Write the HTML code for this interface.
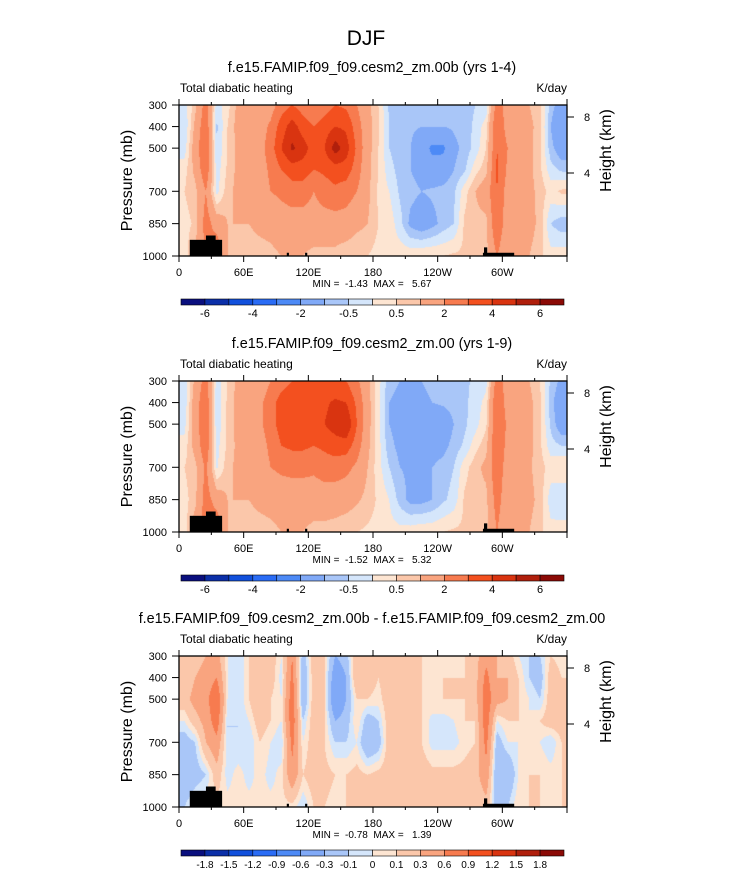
<!DOCTYPE html>
<html><head><meta charset="utf-8"><style>
body{margin:0;background:#fff;width:733px;height:872px;overflow:hidden;position:relative;font-family:"Liberation Sans",Arial,sans-serif}
canvas{position:absolute}
svg{position:absolute;left:0;top:0}
text{white-space:pre}
</style></head><body>
<svg id="ov" width="733" height="872"></svg>
<script>
const lons=[5,15,25,35,45,55,65,75,85,95,105,115,125,135,145,155,165,175,185,195,205,215,225,235,245,255,265,275,285,295,305,315,325,335,345,355];
const pres=[300,400,500,600,700,850,1000];
const levelsA=[-6,-5,-4,-3,-2,-1,-0.5,0,0.5,1,2,3,4,5,6];
const levelsD=[-1.8,-1.5,-1.2,-0.9,-0.6,-0.3,-0.1,0,0.1,0.3,0.6,0.9,1.2,1.5,1.8];
const labelsA=["-6","-4","-2","-0.5","0.5","2","4","6"];
const labelsD=["-1.8","-1.5","-1.2","-0.9","-0.6","-0.3","-0.1","0","0.1","0.3","0.6","0.9","1.2","1.5","1.8"];
const colors=['#0a0f7e','#0b2fa8','#1150dc','#2a6cf5','#4d8af6','#80a9f7','#a9c6f8','#d5e6fb','#fde5d2','#fbc7aa','#f9a47f','#f77b4f','#f3501f','#d93410','#b01f0c','#8b0a06'];
const xTickLabels=["0","60E","120E","180","120W","60W"];
const xTickLons=[0,60,120,180,240,300];
const pTicks=[300,400,500,700,850,1000];
const field1=[
[-0.3,0.8,2.5,-0.3,0.3,1.2,1.2,1.2,1.5,2.5,3,2.5,2,2.5,3,2.8,2,1.2,0.5,-0.6,-0.8,-0.8,-0.8,-0.8,-0.8,-0.8,-0.7,-0.5,-0.4,2.5,1.5,1.2,1.0,0.6,-0.7,-1.5],
[-0.5,1.2,2.8,-0.6,0.5,1.3,1.3,1.5,2.2,3.5,4.5,3.5,3,3.5,4,3.8,2.5,1.3,0.6,-0.5,-0.8,-0.9,-1,-1,-1,-0.9,-0.7,-0.4,0.3,3,1.5,1.5,1.2,0.7,-1,-2],
[-0.3,1.5,3,-0.5,0.5,1.2,1.3,1.6,2.5,4,5.2,4.5,3.5,4,5.5,4.5,2.8,1.3,0.5,-0.5,-0.8,-1,-1.5,-2.2,-2.2,-1.2,-0.8,-0.3,0.5,3,2,1.6,1.2,0.6,-0.8,-1.5],
[0.3,1.2,2.8,-0.3,0.6,1.2,1.2,1.5,2.2,3,3.5,3.5,3,3.2,3.5,3.5,2.5,1.2,0.5,-0.3,-0.7,-1,-1.3,-1.6,-1.5,-1,-0.6,0.3,0.8,3.2,1.8,1.5,1.2,0.6,-0.3,-0.6],
[0.5,0.8,2,-0.2,0.8,1.2,1.2,1.5,2,2.2,2.5,2.5,2,2.5,2.8,2.5,2,1.2,0.4,0,-0.6,-0.8,-1,-0.9,-0.8,-0.6,0.3,1,1.5,3,1.5,1.5,1.2,0.8,0.3,0.6],
[0.3,0.6,2.5,1.5,1,1,1,1.2,1.3,1.5,1.5,1.5,1.5,1.5,1.5,1.5,1.2,1,0.5,0.3,-0.3,-1.2,-1.5,-1.2,-0.8,-0.5,0.6,0.8,0.8,3,1.2,1.5,1.3,0.8,-0.5,-0.8],
[0.2,1.2,2,3,1,0.8,0.7,0.7,0.8,1,1,1,0.8,0.8,0.8,0.6,0.5,0.5,0.3,0.2,0.3,0.4,0.5,0.5,0.5,0.6,0.6,0.8,0.8,2,1,1.2,1,0.6,0.2,0.3]];
const field2=[
[-0.3,1.2,2.5,-0.3,0.5,1.2,1.3,1.4,2,2.5,3,3,3,3,3,3,2.2,1.2,0.2,-0.8,-1,-1,-1,-0.9,-0.8,-0.8,-0.6,-0.4,-0.2,2.5,1.5,1.2,1,0.5,-0.6,-1.2],
[-0.4,1.5,2.8,-0.4,0.6,1.3,1.5,1.8,2.5,3.5,4,3.8,3.5,3.8,4.2,4,2.8,1.3,0.2,-1,-1.2,-1.2,-1.1,-1,-0.9,-0.8,-0.6,-0.3,0.2,3,1.5,1.4,1.2,0.6,-0.8,-1.6],
[-0.2,1.5,3,-0.4,0.6,1.3,1.5,1.8,2.5,3.5,4,3.8,3.5,4,4.5,5,3,1.3,0.2,-1,-1.3,-1.3,-1.3,-1.5,-1.5,-1,-0.6,-0.2,0.4,3,1.8,1.5,1.2,0.6,-0.6,-1.5],
[0.2,1.3,2.8,-0.2,0.6,1.2,1.3,1.6,2.2,3,3.2,3.2,3,3.2,3.5,3.5,2.5,1.2,0.2,-0.8,-1.2,-1.3,-1.3,-1.3,-1.2,-0.8,-0.4,0.3,0.8,3,1.6,1.4,1.2,0.6,-0.3,-0.5],
[0.5,0.8,2.2,-0.1,0.8,1.2,1.2,1.5,2,2.2,2.3,2.3,2.2,2.5,2.5,2.3,1.8,1,0.2,-0.5,-1,-1.1,-1.1,-1,-0.8,-0.5,0.3,0.8,1.2,2.8,1.4,1.4,1.1,0.7,0.3,0.5],
[0.3,0.8,2.5,1.5,1,1,1,1.2,1.3,1.4,1.4,1.4,1.4,1.4,1.4,1.3,1.1,0.8,0.4,0,-0.7,-1.2,-1.2,-1,-0.6,-0.3,0.6,0.8,0.8,2.5,1.2,1.4,1.2,0.8,-0.3,-0.5],
[0.2,1.5,2.5,3,1,0.8,0.7,0.7,0.8,1,1,1,0.8,0.8,0.7,0.6,0.5,0.4,0.3,0.2,0.2,0.3,0.4,0.4,0.5,0.6,0.6,0.8,0.8,2,1,1.2,1,0.6,0.2,0.3]];
const field3=[
[0.1,0.2,0.3,0.4,0,-0.1,0.1,0.2,0.2,0,0.6,-0.2,0.2,0.1,-0.3,-0.2,0.3,0.2,0.1,0.2,0.2,0.1,0.1,0.05,0.1,0.05,0.1,0.2,0.5,0.3,0.2,0,-0.1,-0.1,0.1,0.05],
[0.1,0.3,0.4,0.6,0,-0.1,0.1,0.3,0.2,-0.05,0.7,-0.3,0.2,0.1,-0.5,-0.3,0.3,0.2,0.1,0.2,0.3,0.2,0.1,0.05,0.1,0.1,0.1,0.2,0.7,0.3,0.3,0.1,-0.1,-0.2,0.2,0.1],
[0.2,0.4,0.5,0.9,0,-0.1,0.1,0.3,0.1,0,0.8,-0.3,0.2,0.1,-0.6,-0.3,0.1,0.1,0.05,0.2,0.3,0.2,0.1,0.1,0.1,0.1,0.1,0.2,0.8,0.4,0.3,0.1,0,-0.1,0.2,0.2],
[0,0.2,0.4,0.8,-0.1,-0.1,0,0.2,0.1,0,0.8,-0.1,0.2,0.1,-0.3,-0.2,0.1,-0.2,-0.1,0.2,0.3,0.2,0.1,-0.05,-0.05,0,0.1,0.1,0.8,0,0.1,0.1,0,0.1,0.2,0.2],
[-0.2,-0.1,0.3,0.5,-0.1,-0.1,-0.1,0.1,0,-0.1,0.7,0,0.2,0.1,-0.1,-0.1,0,-0.3,-0.2,0.2,0.2,0.2,0.1,-0.05,-0.05,-0.05,0.05,0.1,0.7,-0.2,0,0,0,0,-0.1,0.1],
[-0.3,-0.2,-0.1,0.2,-0.05,0.05,-0.05,0.05,-0.05,0.05,0.5,0.1,0.2,0.15,0.1,0.1,0.15,0.1,0.15,0.2,0.2,0.3,0.2,0.15,0.15,0.15,0.15,0.2,0.5,-0.3,-0.3,0,0.1,0.1,0.05,0.1],
[-0.1,0.05,0.1,0.05,0.05,0.05,0.05,0.05,0.05,0.05,0.05,-0.1,0.1,0.1,0.05,0.1,0.1,0.1,0.1,0.1,0.1,0.1,0.15,0.1,0.1,0.1,0.1,0.1,0.2,-0.2,-0.1,0.1,0.1,0.1,0.1,0.1]];
const panels=[
 {top:105,title:"f.e15.FAMIP.f09_f09.cesm2_zm.00b (yrs 1-4)",field:field1,levels:levelsA,labels:labelsA,labelEvery:2,minmax:"MIN =  -1.43  MAX =   5.67"},
 {top:381,title:"f.e15.FAMIP.f09_f09.cesm2_zm.00 (yrs 1-9)",field:field2,levels:levelsA,labels:labelsA,labelEvery:2,minmax:"MIN =  -1.52  MAX =   5.32"},
 {top:656,title:"f.e15.FAMIP.f09_f09.cesm2_zm.00b - f.e15.FAMIP.f09_f09.cesm2_zm.00",field:field3,levels:levelsD,labels:labelsD,labelEvery:1,minmax:"MIN =  -0.78  MAX =   1.39"}];
const X0=179,W=388,H=151;
const xs=lon=>X0+lon/360*W;
const ys=(p,top)=>top+(p-300)/700*H;
const ov=document.getElementById('ov');
const NS="http://www.w3.org/2000/svg";
function el(t,a,txt){const e=document.createElementNS(NS,t);for(const k in a)e.setAttribute(k,a[k]);if(txt!==undefined)e.textContent=txt;ov.appendChild(e);return e;}
function val(f,lon,p){
 let ri=0;while(ri<pres.length-2&&p>pres[ri+1])ri++;
 const rt=Math.min(1,Math.max(0,(p-pres[ri])/(pres[ri+1]-pres[ri])));
 let c=(lon-5)/10;c=Math.max(0,Math.min(lons.length-1,c));
 const ci=Math.min(lons.length-2,Math.floor(c)),ct=c-ci;
 const a=f[ri][ci]*(1-ct)+f[ri][ci+1]*ct,b=f[ri+1][ci]*(1-ct)+f[ri+1][ci+1]*ct;
 return a*(1-rt)+b*rt;}
function lvl(v,L){let i=0;while(i<L.length&&v>=L[i])i++;return i;}
const t=el('text',{x:366,y:45,'text-anchor':'middle','font-size':21});t.textContent="DJF";

panels.forEach((P,k)=>{
 const cv=document.createElement('canvas');cv.width=W;cv.height=H;cv.style.left=X0+'px';cv.style.top=P.top+'px';
 
 document.body.insertBefore(cv,ov);
 const ctx=cv.getContext('2d');
 for(let y=0;y<H;y++)for(let x=0;x<W;x++){
  const v=val(P.field,(x+0.5)/W*360,300+(y+0.5)/H*700);
  ctx.fillStyle=colors[lvl(v,P.levels)];ctx.fillRect(x,y,1,1);}
 const T=P.top;
 const topo=[[10,40,925],[25,34,905],[100,102,985],[117,119,985],[282,311,985],[283,286,960]];
 topo.forEach(r=>{const e=el('rect',{x:xs(r[0]),y:ys(r[2],T),width:xs(r[1])-xs(r[0]),height:ys(1000,T)-ys(r[2],T),fill:'#000'});
  });
 const fr=el('rect',{x:X0,y:T,width:W,height:H,fill:'none',stroke:'#000','stroke-width':1.3});
 
 for(let l=0;l<=360;l+=30){const maj=l%60===0,len=maj?6:3;
  el('line',{x1:xs(l),x2:xs(l),y1:T+H,y2:T+H+len,stroke:'#000'});
  el('line',{x1:xs(l),x2:xs(l),y1:T,y2:T-len,stroke:'#000'});}
 xTickLabels.forEach((s,i)=>{const e=el('text',{x:xs(xTickLons[i]),y:T+H+20,'text-anchor':'middle','font-size':11},s);
  });
 pTicks.forEach(p=>{el('line',{x1:X0-7,x2:X0,y1:ys(p,T),y2:ys(p,T),stroke:'#000'});
  const e=el('text',{x:X0-12,y:ys(p,T)+4,'text-anchor':'end','font-size':11},String(p));
  });
 [[8,12],[4,68]].forEach(h=>{el('line',{x1:X0+W,x2:X0+W+7,y1:T+h[1],y2:T+h[1],stroke:'#000'});
  const e=el('text',{x:X0+W+17,y:T+h[1]+4,'font-size':11},String(h[0]));
  });
 let e=el('text',{x:132,y:T+H/2,'text-anchor':'middle','font-size':16,transform:`rotate(-90 132 ${T+H/2})`},"Pressure (mb)");
 
 e=el('text',{x:611,y:T+H/2-30,'text-anchor':'middle','font-size':16,transform:`rotate(-90 611 ${T+H/2-30})`},"Height (km)");
 
 e=el('text',{x:372,y:T-33,'text-anchor':'middle','font-size':14.4},P.title);
 
 e=el('text',{x:X0+1,y:T-13,'font-size':12},"Total diabatic heating");
 
 e=el('text',{x:X0+W,y:T-13,'text-anchor':'end','font-size':12},"K/day");
 
 e=el('text',{x:372,y:T+H+31,'text-anchor':'middle','font-size':10},P.minmax);
 
 const cy=T+194,cx0=181,cw=(564-181)/16;
 colors.forEach((c,i)=>{const r=el('rect',{x:cx0+i*cw,y:cy,width:cw,height:6,fill:c,stroke:'#000','stroke-width':0.6});
  });
 P.labels.forEach((s,i)=>{const bi=P.labelEvery===2?1+2*i:1+i;
  const e2=el('text',{x:cx0+bi*cw,y:cy+18,'text-anchor':'middle','font-size':P.labelEvery===2?11:10},s);
  });
});
</script>
</body></html>
